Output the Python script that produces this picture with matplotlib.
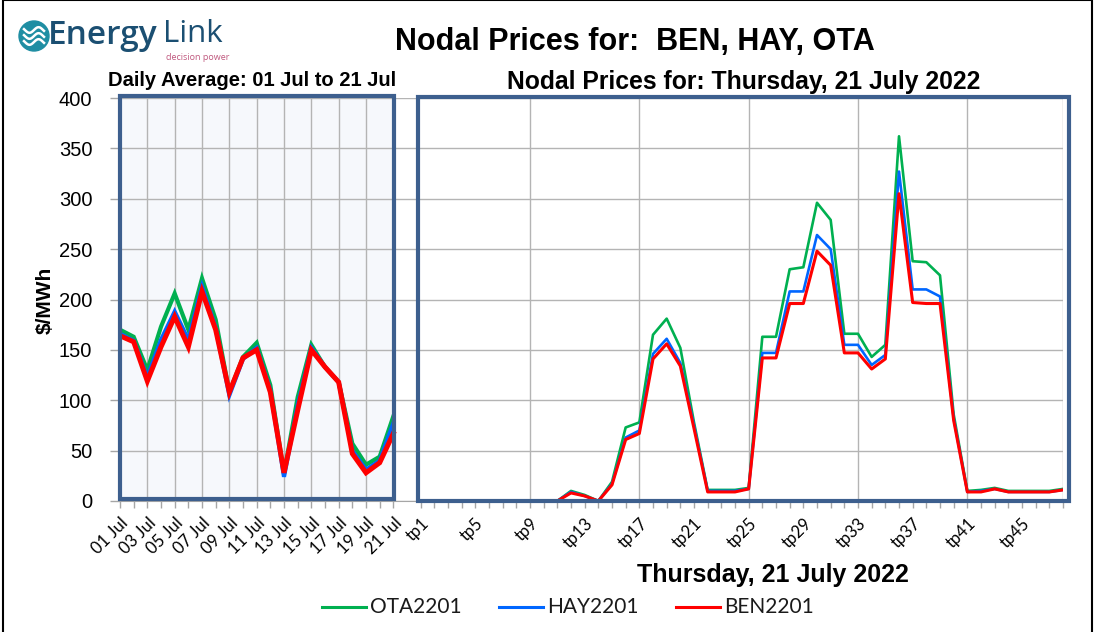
import numpy as np
import matplotlib
matplotlib.use("Agg")
import matplotlib.pyplot as plt
from matplotlib.patches import Rectangle, Ellipse
from matplotlib.lines import Line2D

# ---------------- data ----------------
days = ["01 Jul", "02 Jul", "03 Jul", "04 Jul", "05 Jul", "06 Jul", "07 Jul",
        "08 Jul", "09 Jul", "10 Jul", "11 Jul", "12 Jul", "13 Jul", "14 Jul",
        "15 Jul", "16 Jul", "17 Jul", "18 Jul", "19 Jul", "20 Jul", "21 Jul"]
daily_ota = [170, 163, 130, 173, 206, 170, 221, 180, 108, 143, 157, 115, 27, 103,
             155, 133, 118, 57, 36, 44, 84]
daily_hay = [166, 159, 123, 160, 188, 160, 213, 172, 105, 141, 152, 110, 24, 95,
             152, 133, 118, 50, 31, 40, 77]
daily_ben = [164, 158, 119, 153, 183, 153, 208, 170, 108, 142, 150, 108, 28, 90,
             150, 133, 118, 47, 28, 38, 67]

tps = ["tp%d" % i for i in range(1, 49)]
tp_ota = [0, 0, 0, 0, 0, 0, 0, 0, 0, 0, 0, 10, 6, 0, 19, 73, 78, 165, 181, 152,
          78, 11, 11, 11, 13, 163, 163, 230, 232, 296, 279, 166, 166, 143, 155, 362,
          238, 237, 224, 86, 10, 11, 13, 10, 10, 10, 10, 12]
tp_hay = [0, 0, 0, 0, 0, 0, 0, 0, 0, 0, 0, 9, 5, 0, 17, 63, 70, 146, 161, 137,
          75, 10, 10, 10, 12, 147, 147, 208, 208, 264, 250, 155, 155, 135, 145, 327,
          210, 210, 203, 82, 9, 10, 12, 9, 9, 9, 9, 11]
tp_ben = [0, 0, 0, 0, 0, 0, 0, 0, 0, 0, 0, 8, 5, 0, 16, 61, 67, 141, 156, 134,
          72, 9, 9, 9, 12, 142, 142, 196, 196, 248, 234, 147, 147, 131, 141, 305,
          197, 196, 196, 80, 9, 9, 12, 9, 9, 9, 9, 11]

series_names = ["OTA2201", "HAY2201", "BEN2201"]
colors = ["#00b050", "#0066ff", "#ff0000"]

# ---------------- figure ----------------
W, H = 1097, 632
fig = plt.figure(figsize=(W / 100, H / 100), dpi=100)

def fx(px):
    return np.asarray(px) / W

def fy(py):
    return 1 - np.asarray(py) / H

ARIAL = ["Liberation Sans", "DejaVu Sans"]
CALIBRI = ["Lato", "DejaVu Sans"]

ax = fig.add_axes([fx(120), fy(501), 943 / W, 403 / H])
n_days = len(days)
gap = 1
x_days = np.arange(n_days)
x_tp = np.arange(len(tps)) + n_days + gap
ax.set_xlim(0, x_tp[-1])
ax.set_ylim(0, 400)

# left panel background
ax.add_patch(Rectangle((0, 0), n_days - 1, 400, facecolor="#f6f8fc",
                       edgecolor="none", zorder=0))

# grid
ax.set_yticks(np.arange(0, 401, 50))
ax.yaxis.grid(True, color="#b4b4b4", lw=1.0, zorder=1)
vx = list(x_days[2::2]) + [x_tp[i] for i in (8, 16, 24, 32, 40, 47)]
ax.vlines(vx, 0, 400, color="#b4b4b4", lw=1.0, zorder=1)

# lines
lw_left = [3.0, 3.0, 3.6]
lw_right = [1.9, 1.9, 2.2]
for vals, c, lw in zip([daily_ota, daily_hay, daily_ben], colors, lw_left):
    ax.plot(x_days, vals, color=c, lw=lw, zorder=3, solid_joinstyle="miter")
for vals, c, lw, name in zip([tp_ota, tp_hay, tp_ben], colors, lw_right, series_names):
    ax.plot(x_tp, vals, color=c, lw=lw, zorder=3, label=name)

# boxes
box_c = "#3d5f8e"
ax.add_patch(Rectangle((0.03, 2), 19.99, 400, fill=False, edgecolor=box_c,
                       lw=3.0, zorder=5, clip_on=False))
ax.add_patch(Rectangle((21.8, 0), 69.42 - 21.8, 401, fill=False, edgecolor=box_c,
                       lw=3.0, zorder=5, clip_on=False))

# axes styling
for s in ["top", "right", "left"]:
    ax.spines[s].set_visible(False)
ax.spines["bottom"].set_color("#a6a6a6")
ax.spines["bottom"].set_zorder(2)

xt = list(x_days[::2]) + list(x_tp[::4])
xl = [days[i] for i in range(0, n_days, 2)] + [tps[i] for i in range(0, len(tps), 4)]
ax.set_xticks(xt)
ax.set_xticklabels(xl, rotation=45, ha="right", va="top", rotation_mode="anchor",
                   fontsize=12, family=CALIBRI)
ax.set_xticks(list(x_days) + list(x_tp), minor=True)
ax.tick_params(axis="x", which="both", length=5, color="#a6a6a6", width=1, pad=5)
ax.tick_params(axis="y", length=7, color="#a6a6a6", width=1, pad=13,
               labelsize=14.5)
for t in ax.get_yticklabels():
    t.set_family(ARIAL)

# texts
fig.text(fx(635), fy(42), "Nodal Prices for:  BEN, HAY, OTA", ha="center",
         va="center", fontsize=22, fontweight="bold", family=ARIAL)
fig.text(fx(252), fy(80), "Daily Average: 01 Jul to 21 Jul", ha="center",
         va="center", fontsize=14.5, fontweight="bold", family=ARIAL)
fig.text(fx(744), fy(82), "Nodal Prices for: Thursday, 21 July 2022",
         ha="center", va="center", fontsize=17.8, fontweight="bold", family=ARIAL)
fig.text(fx(773), fy(575), "Thursday, 21 July 2022", ha="center", va="center",
         fontsize=18, fontweight="bold", family=ARIAL)
fig.text(fx(45), fy(300), "$/MWh", ha="center", va="center", rotation=90,
         fontsize=15, fontweight="bold", family=ARIAL)

# legend (manual)
leg_x = [322, 499, 676]
for x0, c, name in zip(leg_x, colors, series_names):
    fig.add_artist(Line2D([fx(x0), fx(x0 + 44)], [fy(607), fy(607)], color=c, lw=2.2))
    fig.text(fx(x0 + 48), fy(607), name, ha="left", va="center", fontsize=15,
             family=CALIBRI, color="#1a1a1a")

# logo
r = 15
fig.add_artist(Ellipse((fx(34), fy(36)), 2 * r / W, 2 * r / H,
                       transform=fig.transFigure, color="#1f8ea3", zorder=5))
t = np.linspace(-1, 1, 50)
for off in [-6, 0, 6]:
    xs = 34 + t * 10
    ys = 36 + off - 2.8 * np.sin(t * np.pi * 1.1)
    fig.add_artist(Line2D(fx(xs), fy(ys), color="white", lw=1.8, zorder=6))
fig.text(fx(48), fy(36), "Energy", ha="left", va="center", fontsize=24,
         fontweight="semibold", color="#1b4f72", family=["Open Sans", "DejaVu Sans"])
fig.text(fx(163), fy(34), "Link", ha="left", va="center", fontsize=22.5,
         color="#1b4f72", family=["Open Sans", "DejaVu Sans"])
fig.text(fx(166), fy(58), "decision power", ha="left", va="center", fontsize=6.5,
         color="#c0587e", family=["Open Sans", "DejaVu Sans"])

# outer border
fig.add_artist(Rectangle((fx(3), fy(640)), fx(1089), 640 / H, fill=False,
                         edgecolor="black", lw=1.5, transform=fig.transFigure))

fig.savefig("out.png", dpi=100)
